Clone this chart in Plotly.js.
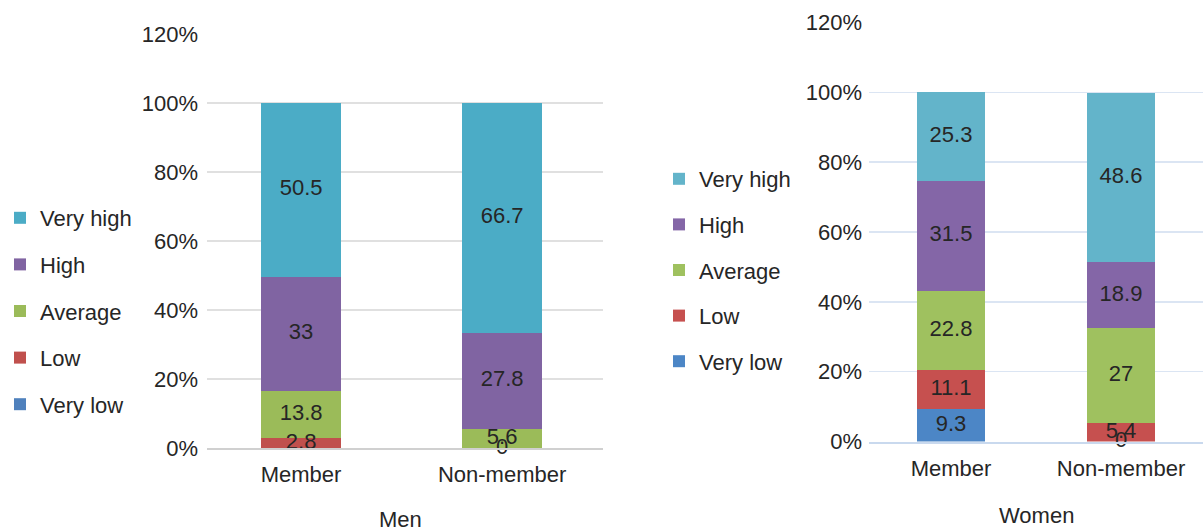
<!DOCTYPE html>
<html>
<head>
<meta charset="utf-8">
<script src="https://cdn.plot.ly/plotly-3.0.1.min.js"></script>
<style>html,body{margin:0;padding:0;background:#fff;}#chart{width:1203px;height:532px;}</style>
</head>
<body>
<div id="chart"></div>
<script>
// ---- data ----
const categories = ['Member', 'Non-member'];
const levels = ['Very low', 'Low', 'Average', 'High', 'Very high'];
const menVeryLow   = [null, 0];
const menLow       = [2.8, null];
const menAverage   = [13.8, 5.6];
const menHigh      = [33, 27.8];
const menVeryHigh  = [50.5, 66.7];
const womenVeryLow  = [9.3, 0];
const womenLow      = [11.1, 5.4];
const womenAverage  = [22.8, 27];
const womenHigh     = [31.5, 18.9];
const womenVeryHigh = [25.3, 48.6];
const yTicks = [0, 20, 40, 60, 80, 100, 120];

// ---- styles ----
const FONT = 'Liberation Sans Narrow, Arial Narrow, Liberation Sans, sans-serif';
const FS = 22;
const TXT = '#262626';
const menColors = ['#4f81bd', '#c0504d', '#9bbb59', '#8064a2', '#4bacc6'];
const womenColors = ['#4c86c6', '#c6504f', '#9fc15f', '#8466a7', '#63b4ca'];

const menSeries = [menVeryLow, menLow, menAverage, menHigh, menVeryHigh];
const womenSeries = [womenVeryLow, womenLow, womenAverage, womenHigh, womenVeryHigh];

const W = 1203, H = 532;
const traces = [];

function addPanel(series, colors, xa, ya, legendId, prefix) {
  series.forEach((vals, i) => {
    traces.push({
      type: 'bar', x: categories, y: vals, name: levels[i],
      xaxis: xa, yaxis: ya, legend: legendId, legendgroup: prefix + i,
      legendrank: 100 - i,
      width: 0.4, marker: {color: colors[i], line: {width: 0}},
      hoverinfo: 'name+y'
    });
  });
  // value labels centred on segments
  const lx = [], ly = [], lt = [];
  categories.forEach((c, ci) => {
    let base = 0;
    series.forEach(vals => {
      const v = vals[ci];
      if (v === null || v === undefined) return;
      lx.push(c); ly.push(base + v / 2); lt.push(String(v));
      base += v;
    });
  });
  traces.push({
    type: 'scatter', mode: 'text', x: lx, y: ly, text: lt,
    textposition: 'middle center', xaxis: xa, yaxis: ya,
    textfont: {family: FONT, size: FS, color: TXT},
    showlegend: false, hoverinfo: 'skip', cliponaxis: false
  });
}
addPanel(menSeries, menColors, 'x', 'y', 'legend', 'm');
addPanel(womenSeries, womenColors, 'x2', 'y2', 'legend2', 'w');

const tickFont = {family: FONT, size: FS, color: TXT};
function yaxis(domain, grid, anchor, standoff) {
  return {
    domain: domain, range: [0, 120], tickvals: yTicks, ticktext: yTicks.map(v => v + '%'),
    showgrid: true, gridcolor: grid, gridwidth: 1.5, zeroline: false, showline: false,
    ticks: '', tickfont: tickFont, anchor: anchor, fixedrange: true, ticklabelstandoff: standoff
  };
}
function xaxis(domain, range, line, anchor) {
  return {
    domain: domain, range: range, type: 'category', showgrid: false, zeroline: false,
    showline: true, linecolor: line, linewidth: 2, ticks: '', tickfont: tickFont,
    anchor: anchor, fixedrange: true, ticklabelstandoff: 6
  };
}

const layout = {
  width: W, height: H, margin: {l: 0, r: 0, t: 0, b: 0},
  paper_bgcolor: '#fff', plot_bgcolor: 'rgba(0,0,0,0)',
  barmode: 'stack', showlegend: true,
  font: {family: FONT, size: FS, color: TXT},
  xaxis: xaxis([207 / W, 603 / W], [-0.468, 1.502], '#d0d0d0', 'y'),
  yaxis: yaxis([1 - 448 / H, 1 - 34 / H], '#e0e0e0', 'x', 8),
  xaxis2: xaxis([869 / W, 1], [-0.482, 1.482], '#c9d9ee', 'y2'),
  yaxis2: yaxis([1 - 441.5 / H, 1 - 22.5 / H], '#dbe5f3', 'x2', 6),
  legend: {
    x: 0, y: 1 - 197 / H, xanchor: 'left', yanchor: 'top',
    traceorder: 'grouped', tracegroupgap: 15, itemwidth: 30,
    font: {family: FONT, size: FS, color: TXT}, bgcolor: 'rgba(0,0,0,0)'
  },
  legend2: {
    x: 659 / W, y: 1 - 158 / H, xanchor: 'left', yanchor: 'top',
    traceorder: 'grouped', tracegroupgap: 14, itemwidth: 30,
    font: {family: FONT, size: FS, color: TXT}, bgcolor: 'rgba(0,0,0,0)'
  },
  annotations: [
    {text: 'Men', xref: 'paper', yref: 'paper', x: 400 / W, y: 1 - 519 / H,
     showarrow: false, xanchor: 'center', yanchor: 'middle', font: {family: FONT, size: FS, color: TXT}},
    {text: 'Women', xref: 'paper', yref: 'paper', x: 1036 / W, y: 1 - 515 / H,
     showarrow: false, xanchor: 'center', yanchor: 'middle', font: {family: FONT, size: FS, color: TXT}}
  ]
};

Plotly.newPlot('chart', traces, layout, {displayModeBar: false, staticPlot: true});
</script>
</body>
</html>
